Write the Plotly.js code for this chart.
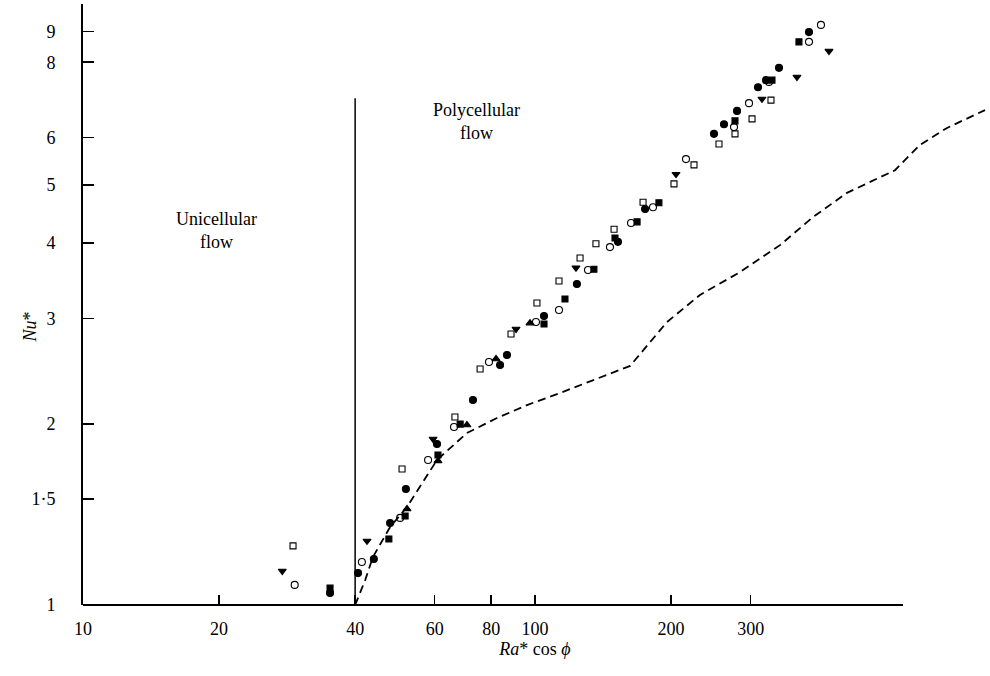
<!DOCTYPE html>
<html><head><meta charset="utf-8">
<script src="https://cdn.plot.ly/plotly-3.0.1.min.js"></script>
<style>html,body{margin:0;padding:0;background:#fff;} #chart{width:990px;height:676px;}</style>
</head><body><div id="chart"></div>
<script>
// Filled circles
const filledCircleX = [35.2, 40.6, 44.0, 47.8, 51.8, 60.7, 72.9, 83.7, 86.7, 104.7, 123.8, 152.6, 175.2, 248.9, 261.9, 279.9, 311.5, 324.4, 346.6, 403.8];
const filledCircleY = [1.047, 1.130, 1.193, 1.369, 1.56, 1.853, 2.193, 2.508, 2.606, 3.026, 3.42, 4.02, 4.56, 6.08, 6.31, 6.64, 7.27, 7.47, 7.83, 8.98];
// Open circles
const openCircleX = [29.4, 41.4, 50.3, 58.0, 66.2, 79.1, 100.5, 113.0, 131.0, 146.5, 163.1, 182.4, 215.8, 275.6, 297.5, 329.4, 403.8, 429.2];
const openCircleY = [1.08, 1.179, 1.396, 1.743, 1.978, 2.537, 2.957, 3.096, 3.61, 3.94, 4.32, 4.59, 5.52, 6.24, 6.84, 7.42, 8.65, 9.23];
// Filled squares
const filledSquareX = [35.2, 47.5, 51.6, 61.0, 68.3, 104.7, 116.5, 135.0, 150.3, 168.2, 188.0, 277.0, 334.4, 383.7];
const filledSquareY = [1.067, 1.288, 1.406, 1.777, 2.0, 2.935, 3.23, 3.62, 4.08, 4.34, 4.67, 6.39, 7.47, 8.65];
// Open squares
const openSquareX = [29.15, 50.8, 66.5, 75.6, 88.5, 101.0, 113.0, 125.8, 136.4, 149.6, 173.4, 203.0, 224.8, 255.3, 277.0, 302.1, 332.7];
const openSquareY = [1.254, 1.684, 2.055, 2.47, 2.824, 3.18, 3.46, 3.78, 3.99, 4.22, 4.68, 5.02, 5.40, 5.85, 6.08, 6.44, 6.92];
// Filled downward triangles
const triDownX = [27.6, 42.5, 59.5, 90.8, 123.2, 205.1, 317.8, 379.8, 447.1];
const triDownY = [1.139, 1.278, 1.889, 2.879, 3.64, 5.21, 6.95, 7.56, 8.35];
// Filled upward triangles
const triUpX = [52.1, 61.0, 70.7, 82.0, 97.5];
const triUpY = [1.445, 1.737, 1.993, 2.567, 2.945];
// Dashed theoretical curve
const curveX = [40.0, 42.1, 43.8, 47.8, 52.1, 60.7, 70.7, 82.4, 96.0, 113.6, 162.3, 195.9, 231.7, 284.1, 348.4, 412.1, 490.0, 625.9, 710.9, 815.6, 990];
const curveY = [1.0, 1.100, 1.202, 1.348, 1.456, 1.743, 1.933, 2.047, 2.151, 2.253, 2.499, 2.957, 3.28, 3.58, 3.97, 4.42, 4.85, 5.29, 5.83, 6.22, 6.66];
// Boundary between unicellular and polycellular flow
const boundaryX = [40, 40];
const boundaryY = [1, 6.97];
// Ticks
const xTickVals = [10, 20, 40, 60, 80, 100, 200, 300];
const xTickText = ['10', '20', '40', '60', '80', '100', '200', '300'];
const yTickVals = [1, 1.5, 2, 3, 4, 5, 6, 8, 9];
const yTickText = ['1', '1·5', '2', '3', '4', '5', '6', '8', '9'];

const FONT = 'Liberation Serif, Times New Roman, serif';
function pts(x, y, symbol, size, name) {
  return {x: x, y: y, type: 'scatter', mode: 'markers', name: name, cliponaxis: false,
    marker: {symbol: symbol, size: size, color: '#000', line: {color: '#000', width: 1.1}}};
}
const traces = [
  {x: boundaryX, y: boundaryY, type: 'scatter', mode: 'lines', line: {color: '#000', width: 1.5}, name: 'boundary'},
  {x: curveX, y: curveY, type: 'scatter', mode: 'lines', line: {color: '#000', width: 1.8, dash: '8px,5px'}, name: 'theory'},
  pts(openSquareX, openSquareY, 'square-open', 6, 'open square'),
  pts(openCircleX, openCircleY, 'circle-open', 7, 'open circle'),
  pts(filledSquareX, filledSquareY, 'square', 6, 'filled square'),
  pts(filledCircleX, filledCircleY, 'circle', 7, 'filled circle'),
  pts(triDownX, triDownY, 'triangle-down', 7, 'triangle down'),
  pts(triUpX, triUpY, 'triangle-up', 7, 'triangle up')
];
const layout = {
  width: 990, height: 676,
  margin: {l: 83, r: 3, t: 4, b: 71},
  paper_bgcolor: '#fff', plot_bgcolor: '#fff',
  showlegend: false,
  font: {family: FONT, color: '#000', size: 18},
  xaxis: {type: 'log', range: [1, 3], showgrid: false, zeroline: false, showline: false,
    tickmode: 'array', tickvals: xTickVals, ticktext: xTickText,
    ticks: 'inside', ticklen: 10, tickwidth: 1.5, tickcolor: '#000', ticklabelstandoff: 11,
    tickfont: {family: FONT, size: 18, color: '#000'},
    title: {text: '<i>Ra</i>* cos <i>ϕ</i>', font: {family: FONT, size: 18, color: '#000'}, standoff: 2}},
  yaxis: {type: 'log', range: [0, 1], showgrid: false, zeroline: false, showline: true, linecolor: '#000', linewidth: 2,
    tickmode: 'array', tickvals: yTickVals, ticktext: yTickText,
    ticks: 'inside', ticklen: 11, tickwidth: 1.5, tickcolor: '#000', ticklabelstandoff: 22,
    tickfont: {family: FONT, size: 18, color: '#000'}},
  shapes: [
    {type: 'line', xref: 'paper', yref: 'paper', x0: 0, x1: (903 - 83) / 904, y0: 0, y1: 0, line: {color: '#000', width: 2}}
  ],
  annotations: [
    {text: '<i>Nu</i>*', xref: 'paper', yref: 'paper', x: -0.059, y: 0.463, xanchor: 'center', yanchor: 'middle', textangle: -90, showarrow: false,
      font: {family: FONT, size: 18, color: '#000'}},
    {text: 'Unicellular<br>flow', xref: 'paper', yref: 'paper', x: 0.148, y: 0.623, xanchor: 'center', yanchor: 'middle', showarrow: false,
      font: {family: FONT, size: 18, color: '#000'}},
    {text: 'Polycellular<br>flow', xref: 'paper', yref: 'paper', x: 0.435, y: 0.804, xanchor: 'center', yanchor: 'middle', showarrow: false,
      font: {family: FONT, size: 18, color: '#000'}}
  ]
};
Plotly.newPlot('chart', traces, layout, {displayModeBar: false, staticPlot: true});
</script>
</body></html>
